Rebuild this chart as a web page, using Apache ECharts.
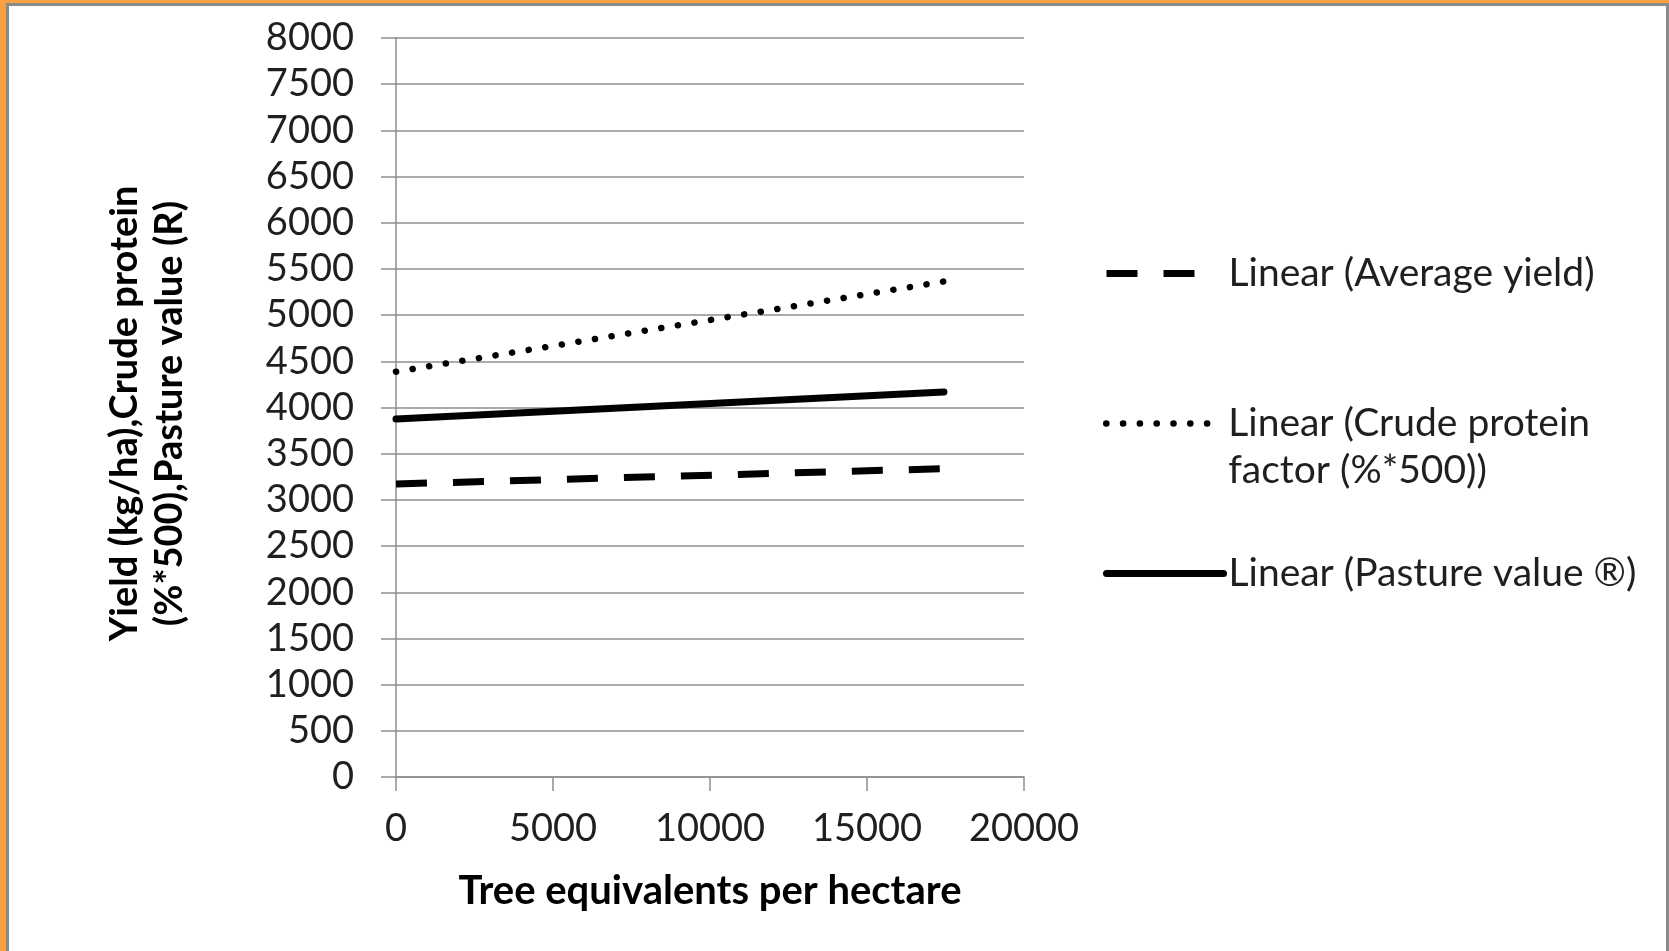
<!DOCTYPE html>
<html>
<head>
<meta charset="utf-8">
<script src="https://cdn.jsdelivr.net/npm/echarts@6/dist/echarts.min.js"></script>
<style>
  html, body { margin: 0; padding: 0; background: #ffffff; }
  #chart { width: 1669px; height: 951px; }
</style>
</head>
<body>
<div id="chart"></div>
<script>
// ---- data ----
const xValues = [0, 17450];
const avgYield = [3172, 3338];
const crudeProtein = [4387, 5364];
const pastureValue = [3875, 4168];
const seriesNames = [
  'Linear (Average yield)',
  'Linear (Crude protein factor (%*500))',
  'Linear (Pasture value \u00AE)'
];
// the leading blank line keeps the legend icon level with the first text line
const legendLabels = [
  'Linear (Average yield)',
  ' \nLinear (Crude protein\nfactor (%*500))',
  'Linear (Pasture value \u00AE)'
];
const xTitle = 'Tree equivalents per hectare';
const yTitle = 'Yield (kg/ha),Crude protein\n(%*500),Pasture value (R)';

const pairs = (xs, ys) => xs.map((x, i) => [x, ys[i]]);

const FONT = 'Lato';
const TXT = '#1f1f1f';
const GRID = '#8f8f8f';

const chart = echarts.init(document.getElementById('chart'), null, { renderer: 'canvas' });

function legendFor(i, top, lineStyle) {
  return {
    show: true,
    data: [seriesNames[i]],
    left: 1103,
    top: top,
    padding: 0,
    orient: 'vertical',
    selectedMode: false,
    itemWidth: 117,
    itemHeight: 14,
    formatter: function () { return legendLabels[i]; },
    textStyle: { fontFamily: FONT, fontSize: 39, color: TXT, lineHeight: 47 },
    itemStyle: { opacity: 0, color: 'transparent', borderWidth: 0 },
    lineStyle: Object.assign({ color: '#000', width: 6, opacity: 1 }, lineStyle)
  };
}

chart.setOption({
  animation: false,
  backgroundColor: '#ffffff',
  graphic: [
    { type: 'rect', shape: { x: 0, y: 0, width: 1669, height: 3 }, style: { fill: '#F9A141' }, z: 100 },
    { type: 'rect', shape: { x: 0, y: 0, width: 6, height: 951 }, style: { fill: '#F9A141' }, z: 100 },
    { type: 'rect', shape: { x: 6, y: 3, width: 1663, height: 3 }, style: { fill: '#8a8a8a' }, z: 100 },
    { type: 'rect', shape: { x: 6, y: 3, width: 3, height: 948 }, style: { fill: '#8a8a8a' }, z: 100 },
    { type: 'rect', shape: { x: 1666, y: 3, width: 3, height: 948 }, style: { fill: '#8a8a8a' }, z: 100 }
  ],
  grid: { left: 396, right: 645, top: 38, bottom: 174, containLabel: false },
  xAxis: {
    type: 'value',
    min: 0, max: 20000, interval: 5000,
    name: xTitle,
    nameLocation: 'middle',
    nameGap: 94,
    nameTextStyle: { fontFamily: FONT, fontSize: 40, fontWeight: 'bold', color: '#000' },
    axisLine: { show: true, lineStyle: { color: GRID, width: 1.5 } },
    axisTick: { show: true, inside: false, length: 14, lineStyle: { color: GRID, width: 1.5 } },
    axisLabel: { fontFamily: FONT, fontSize: 38, color: TXT, margin: 33, formatter: function (v) { return String(v); } },
    splitLine: { show: false }
  },
  yAxis: {
    type: 'value',
    min: 0, max: 8000, interval: 500,
    name: yTitle,
    nameLocation: 'middle',
    nameRotate: 90,
    nameGap: 204,
    nameTextStyle: { fontFamily: FONT, fontSize: 38, fontWeight: 'bold', color: '#000', lineHeight: 45, padding: [0, 12, 0, 0] },
    axisLine: { show: true, lineStyle: { color: GRID, width: 1.5 } },
    axisTick: { show: true, inside: false, length: 15, lineStyle: { color: GRID, width: 1.5 } },
    axisLabel: { fontFamily: FONT, fontSize: 38, color: TXT, margin: 42, formatter: function (v) { return String(v); } },
    splitLine: { show: true, lineStyle: { color: GRID, width: 1.5 } }
  },
  legend: [
    legendFor(0, 250, { type: [31, 26, 31, 200], cap: 'butt', width: 7 }),
    legendFor(1, 353, { type: [0.1, 16.7, 0.1, 16.7, 0.1, 16.7, 0.1, 16.7, 0.1, 16.7, 0.1, 16.7, 0.1, 200], cap: 'round', width: 6.5 }),
    legendFor(2, 550, { type: 'solid', cap: 'round', width: 7 })
  ],
  series: [
    {
      name: seriesNames[0], type: 'line', data: pairs(xValues, avgYield),
      symbol: 'none', silent: true,
      itemStyle: { color: '#000' },
      lineStyle: { color: '#000', width: 7, type: [31, 26], cap: 'butt' }
    },
    {
      name: seriesNames[1], type: 'line', data: pairs(xValues, crudeProtein),
      symbol: 'none', silent: true,
      itemStyle: { color: '#000' },
      lineStyle: { color: '#000', width: 6.5, type: [0.1, 16.7], cap: 'round' }
    },
    {
      name: seriesNames[2], type: 'line', data: pairs(xValues, pastureValue),
      symbol: 'none', silent: true,
      itemStyle: { color: '#000' },
      lineStyle: { color: '#000', width: 7, type: 'solid', cap: 'round' }
    }
  ]
});
</script>
</body>
</html>
